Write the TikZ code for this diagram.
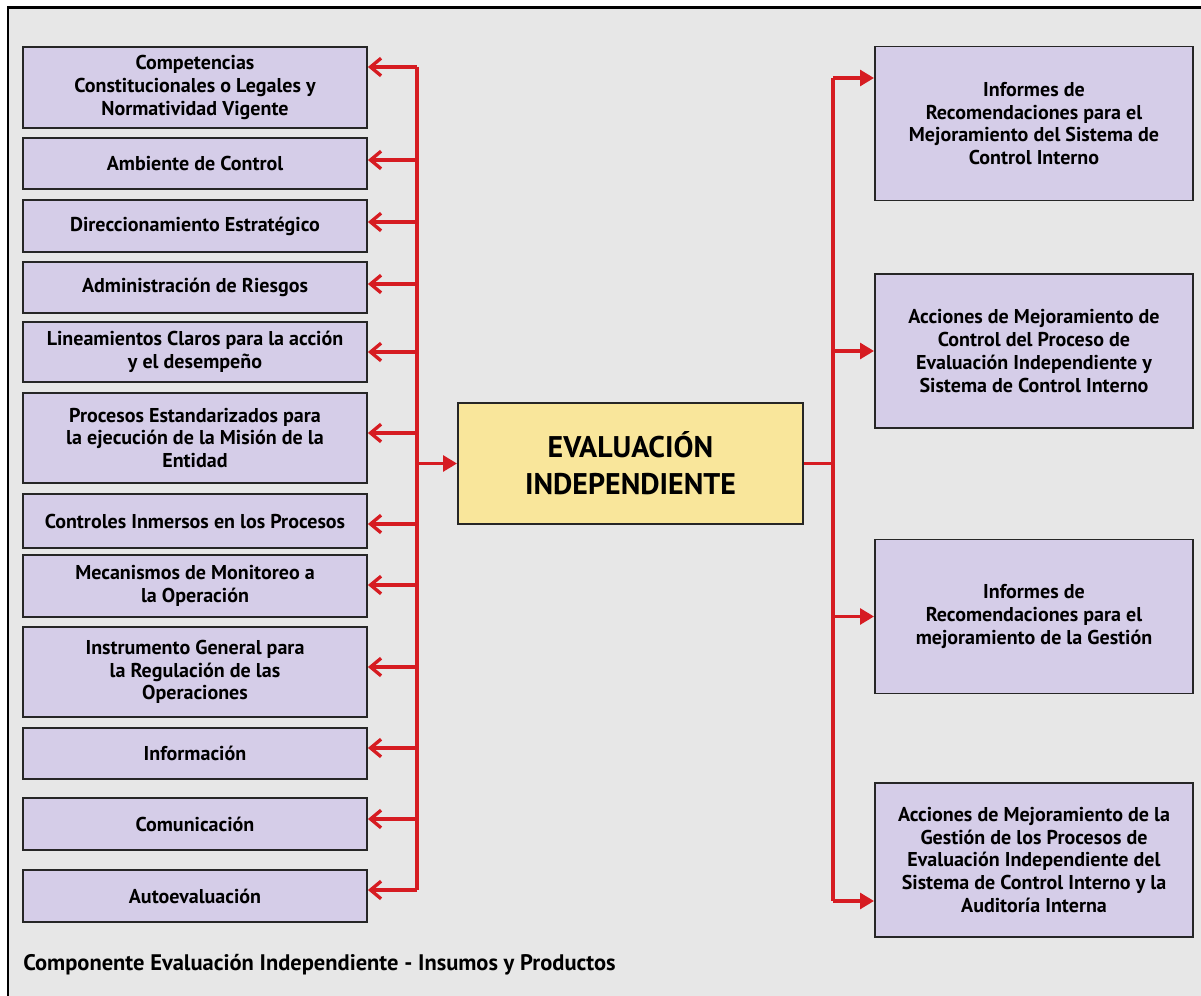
\documentclass[tikz,border=0pt]{standalone}
\usepackage{fontspec}
\setmainfont{PT Sans}
\usepackage{tikz}
\usetikzlibrary{arrows.meta}
\definecolor{white}{RGB}{255,255,255}
\definecolor{black}{RGB}{0,0,0}
\definecolor{lavender}{RGB}{213,205,232}
\definecolor{sand_yellow}{RGB}{249,230,155}
\definecolor{panel_gray}{RGB}{231,231,231}
\definecolor{line_red}{RGB}{214,28,34}

\tikzset{
	insumo/.style={rectangle,draw=black!85,line width=1.1pt,fill=lavender,minimum width=6.88cm,align=center,inner sep=2pt,font=\bfseries\fontsize{11.4}{13}\selectfont},
	producto/.style={rectangle,draw=black!85,line width=1.1pt,fill=lavender,minimum width=6.36cm,minimum height=3.08cm,align=center,inner sep=2pt,font=\bfseries\fontsize{11.4}{13}\selectfont},
	nucleo/.style={rectangle,draw=black!85,line width=1.1pt,fill=sand_yellow,minimum width=6.9cm,minimum height=2.42cm,align=center,font=\bfseries\fontsize{17}{21}\selectfont},
	bus/.style={line_red,line width=1.9pt},
	back_arrow/.style={bus,-{Straight Barb[length=6pt,width=10pt,line width=1.9pt]}},
	fwd_arrow/.style={bus,-{Triangle[length=8pt,width=9pt]}}
}

\begin{document}
\begin{tikzpicture}[x=0.02cm,y=-0.02cm]
	\useasboundingbox (0,0) rectangle (1201,996);
	\fill[white] (0,0) rectangle (1201,996);
	\fill[panel_gray] (8,8) rectangle (1201,996);
	\draw[black,line width=1.7pt] (8,996) -- (8,8) -- (1201,8);

	% insumos
	\node[insumo,minimum height=1.62cm] (i1) at (195,87.5) {Competencias\\Constitucionales o Legales y\\Normatividad Vigente};
	\node[insumo,minimum height=1.02cm] (i2) at (195,163.5) {Ambiente de Control};
	\node[insumo,minimum height=1.04cm] (i3) at (195,226) {Direccionamiento Estratégico};
	\node[insumo,minimum height=1.02cm] (i4) at (195,287.5) {Administración de Riesgos};
	\node[insumo,minimum height=1.2cm] (i5) at (195,352) {Lineamientos Claros para la acción\\y el desempeño};
	\node[insumo,minimum height=1.8cm] (i6) at (195,438) {Procesos Estandarizados para\\la ejecución de la Misión de la\\Entidad};
	\node[insumo,minimum height=1.08cm] (i7) at (195,521) {Controles Inmersos en los Procesos};
	\node[insumo,minimum height=1.24cm] (i8) at (195,586) {Mecanismos de Monitoreo a\\la Operación};
	\node[insumo,minimum height=1.8cm] (i9) at (195,672) {Instrumento General para\\la Regulación de las\\Operaciones};
	\node[insumo,minimum height=1.02cm] (i10) at (195,753.5) {Información};
	\node[insumo,minimum height=1.04cm] (i11) at (195,824) {Comunicación};
	\node[insumo,minimum height=1.04cm] (i12) at (195,896) {Autoevaluación};

	% centro
	\node[nucleo] (eval) at (630.5,463.5) {EVALUACIÓN\\INDEPENDIENTE};

	% productos
	\node[producto] (p1) at (1034,123.5) {Informes de\\Recomendaciones para el\\Mejoramiento del Sistema de\\Control Interno};
	\node[producto] (p2) at (1034,351) {Acciones de Mejoramiento de\\Control del Proceso de\\Evaluación Independiente y\\Sistema de Control Interno};
	\node[producto] (p3) at (1034,616.5) {Informes de\\Recomendaciones para el\\mejoramiento de la Gestión};
	\node[producto] (p4) at (1034,860) {Acciones de Mejoramiento de la\\Gestión de los Procesos de\\Evaluación Independiente del\\Sistema de Control Interno y la\\Auditoría Interna};

	\node[anchor=west,inner sep=0pt,font=\bfseries\fontsize{12.8}{15}\selectfont] (caption) at (23,965) {Componente Evaluación Independiente - Insumos y Productos};

	% conectores
	\coordinate (busL) at (417,0);
	\coordinate (busR) at (833,0);
	\foreach \n/\dy in {i1/0.41,i2/0.07,i3/0.08,i4/0.07,i5/0,i6/0.1,i7/-0.06,i8/0.02,i9/0.1,i10/0.11,i11/0.1,i12/0.12}{
		\path ([yshift=\dy cm]\n.east) coordinate (t\n);
		\draw[back_arrow] (t\n -| busL) -- (t\n);
	}
	\draw[bus] (busL |- ti1) -- (busL |- ti12);
	\draw[fwd_arrow] (busL |- eval.west) -- (eval.west);

	\draw[bus] (eval.east) -- (busR |- eval.east);
	\foreach \n/\dy in {p1/0.91,p2/0,p3/0,p4/-0.82}{
		\path ([yshift=\dy cm]\n.west) coordinate (t\n);
		\draw[fwd_arrow] (t\n -| busR) -- (t\n);
	}
	\draw[bus] (busR |- tp1) -- (busR |- tp4);
\end{tikzpicture}
\end{document}
